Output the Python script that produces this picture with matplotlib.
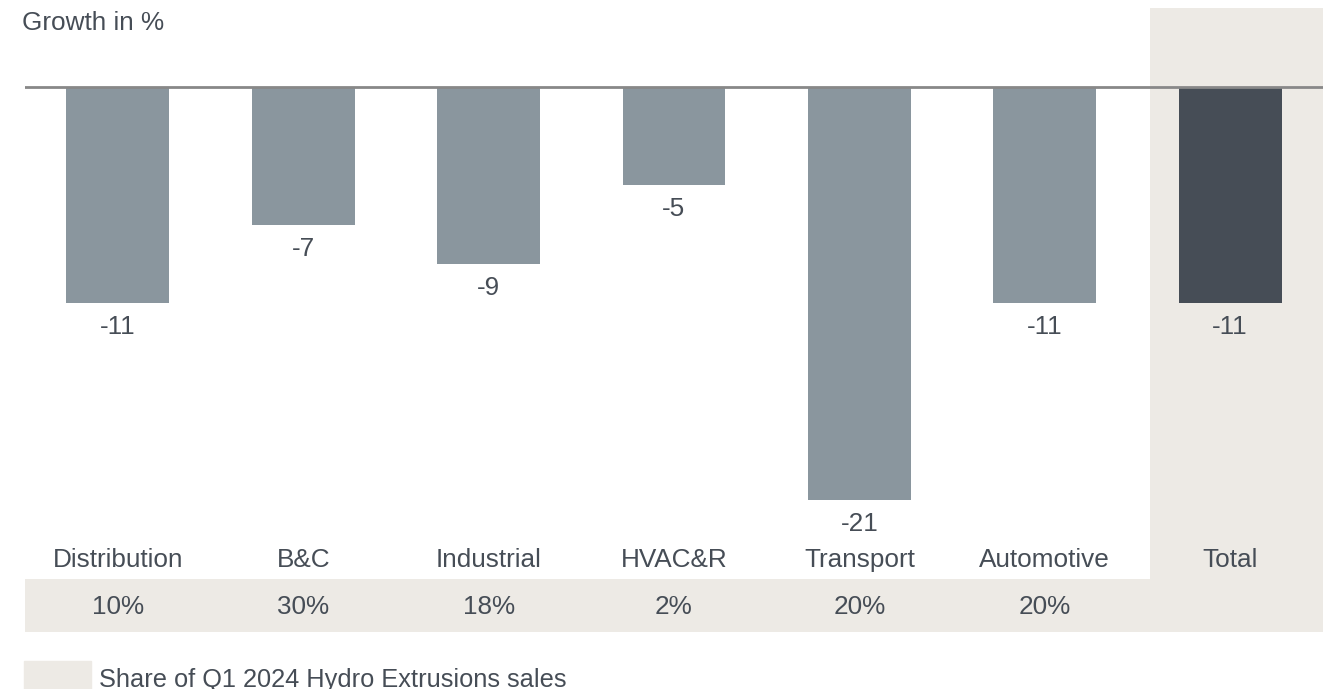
import matplotlib.pyplot as plt
from matplotlib.patches import Rectangle

plt.rcParams['font.family'] = ['Liberation Sans', 'DejaVu Sans']

categories = ['Distribution', 'B&C', 'Industrial', 'HVAC&R', 'Transport', 'Automotive', 'Total']
growth = [-11, -7, -9, -5, -21, -11, -11]
shares = ['10%', '30%', '18%', '2%', '20%', '20%']

BAR = '#8a969e'
TOTAL = '#464d56'
SAND = '#edeae5'
TEXT = '#464d56'
FS = 18.8

W, H = 1334, 689
fig = plt.figure(figsize=(W / 100, H / 100), dpi=100)

# axes placed in pixels: x from 25.25 to 1322.75, y from top 8 to bottom
px_unit = 19.65
zero_px = 87
top_px = 8
left_px, width_px = 25.25, 1297.5
ax = fig.add_axes([left_px / W, 0, width_px / W, (H - top_px) / H])
ymax = (zero_px - top_px) / px_unit
ymin = -(H - zero_px) / px_unit
n = len(categories)
ax.set_xlim(-0.5, n - 0.5)
ax.set_ylim(ymin, ymax)
ax.axis('off')

def py(p):
    return -(p - zero_px) / px_unit

def px(p):
    return (p - left_px) / (width_px / n) - 0.5

# shaded total column and share band
band_top, band_bot = py(579), py(632)
split = px(1150)
ax.add_patch(Rectangle((split, band_bot), n - 0.5 - split, ymax - band_bot, color=SAND, zorder=0, lw=0))
ax.add_patch(Rectangle((-0.5, band_bot), split + 0.5, band_top - band_bot, color=SAND, zorder=0, lw=0))

colors = [BAR] * (n - 1) + [TOTAL]
x = range(n)
ax.bar(x, growth, width=0.555, color=colors, zorder=2)
ax.axhline(0, color='#888888', lw=2, zorder=3)

for i, v in enumerate(growth):
    ax.text(i, v - 1.22, f'{v}', ha='center', va='center', fontsize=FS, color=TEXT)
    ax.text(i, py(560), categories[i], ha='center', va='center', fontsize=FS, color=TEXT)
for i, s in enumerate(shares):
    ax.text(i, py(607), s, ha='center', va='center', fontsize=FS, color=TEXT)

fig.text(22 / W, 1 - 23 / H, 'Growth in %', ha='left', va='center', fontsize=FS, color=TEXT)

# legend swatch
fig.patches.append(Rectangle((24 / W, 0), 67 / W, (H - 661) / H, color=SAND,
                             transform=fig.transFigure, figure=fig))
fig.text(99 / W, 1 - 680 / H, 'Share of Q1 2024 Hydro Extrusions sales', ha='left', va='center',
         fontsize=18.3, color=TEXT)

fig.savefig('out.png', dpi=100)
